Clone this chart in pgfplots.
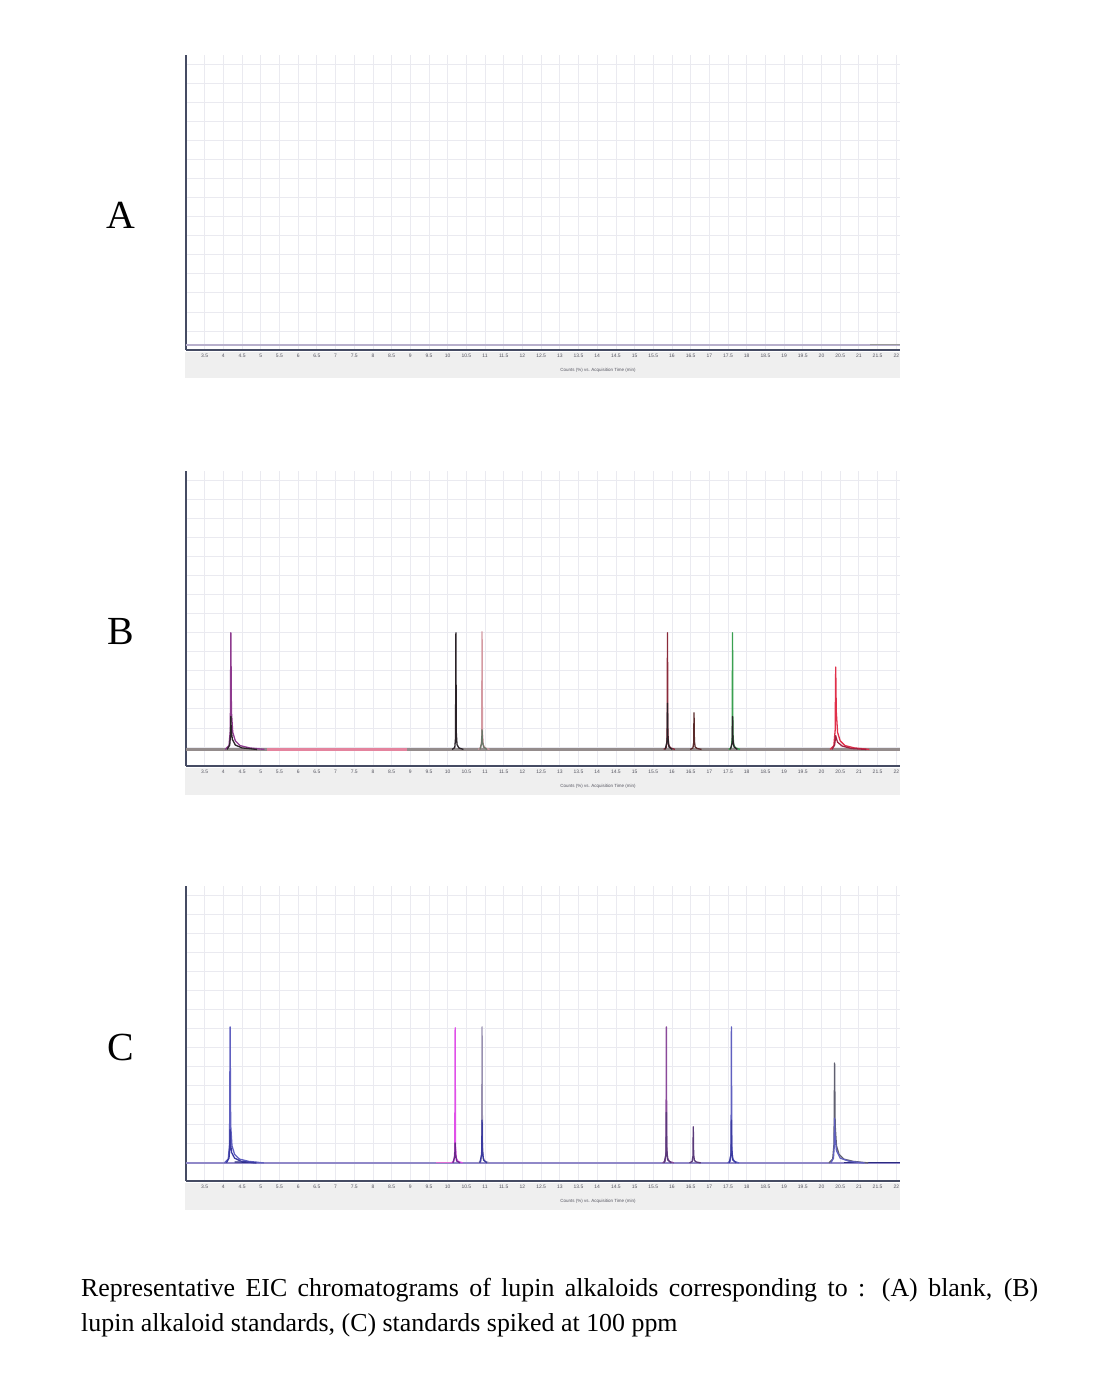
\documentclass[border=0pt]{standalone}
\usepackage{fontspec}
\setmainfont{Liberation Serif}
\setsansfont{Liberation Sans}
\usepackage{pgfplots}
\pgfplotsset{compat=1.18}
\definecolor{axisc}{HTML}{454B63}
\definecolor{gridc}{HTML}{EAEAF0}
\definecolor{stripc}{HTML}{EFEFEF}
\definecolor{labc}{HTML}{555560}
% panel B colours
\definecolor{bgray}{HTML}{948C8C}
\definecolor{bpink}{HTML}{E4849E}
\definecolor{bpurple}{HTML}{8E3A8E}
\definecolor{bblack}{HTML}{2A2228}
\definecolor{brosy}{HTML}{D49AA2}
\definecolor{bgreengray}{HTML}{6A786A}
\definecolor{bdarkred}{HTML}{8A2A3A}
\definecolor{bbrown}{HTML}{5A2A2A}
\definecolor{bgreen}{HTML}{3AA050}
\definecolor{bcrimson}{HTML}{E0304A}
\definecolor{bcrimsondk}{HTML}{A02040}
% panel C colours
\definecolor{clav}{HTML}{9088C8}
\definecolor{cpinkb}{HTML}{E070D0}
\definecolor{cnavy}{HTML}{2A2A80}
\definecolor{cblue}{HTML}{6060C0}
\definecolor{cbluedk}{HTML}{3A3AA0}
\definecolor{cmag}{HTML}{E050E8}
\definecolor{cpurpdk}{HTML}{6A2A8A}
\definecolor{cgraylav}{HTML}{9890B0}
\definecolor{cpurp}{HTML}{8A4A9A}
\definecolor{cdark}{HTML}{5A3A7A}
\definecolor{cdgray}{HTML}{606070}
% panel A colours
\definecolor{alav}{HTML}{B8B0CC}
\definecolor{agray}{HTML}{9A9A9A}

\pgfplotsset{chrom/.style={
  width=714bp, height=295bp, scale only axis,
  anchor=south west,
  xmin=3, xmax=22.1, ymin=0, ymax=15.5,
  axis x line*=bottom, axis y line*=left,
  axis line style={-, draw=axisc, line width=2bp},
  xtick={3.5,4,4.5,5,5.5,6,6.5,7,7.5,8,8.5,9,9.5,10,10.5,11,11.5,12,12.5,13,13.5,14,14.5,15,15.5,16,16.5,17,17.5,18,18.5,19,19.5,20,20.5,21,21.5,22},
  ytick={0,1,...,15}, yticklabels={},
  grid=major, major grid style={draw=gridc, line width=0.8bp},
  major tick length=0pt,
  /pgf/number format/assume math mode=true,
  xticklabel style={font=\sffamily\fontsize{5}{5}\selectfont, text=labc, yshift=-1bp},
  every axis plot/.append style={line width=1.3bp, line join=round},
}}

\begin{document}
\begin{tikzpicture}
\useasboundingbox (0,0) rectangle (1106bp,1383bp);
% grey label strips
\fill[stripc] (185bp,1005bp) rectangle (900bp,1031bp);
\fill[stripc] (185bp,588bp) rectangle (900bp,615bp);
\fill[stripc] (185bp,173bp) rectangle (900bp,200bp);

% ---------------- Panel A ----------------
\begin{axis}[chrom, at={(186bp,1033bp)}]
\addplot[alav, line width=1.6bp] coordinates {(3,0.25) (22.1,0.25)};
\addplot[agray, line width=1.2bp] coordinates {(21.3,0.3) (22.1,0.3)};
\end{axis}

% ---------------- Panel B ----------------
\begin{axis}[chrom, at={(186bp,617bp)}]
\addplot[bgray, line width=2.2bp] coordinates {(3,0.87) (22.1,0.87)};
\addplot[bpink, line width=2.4bp] coordinates {(5.16,0.87) (8.9,0.87)};
% peak 1
\addplot[bpurple] coordinates {(4.05,0.87) (4.15,1.07) (4.185,1.87) (4.20,7.0) (4.215,2.87) (4.25,1.77) (4.32,1.32) (4.45,1.07) (4.70,0.95) (5.10,0.87)};
\addplot[bblack] coordinates {(4.10,0.87) (4.17,1.1) (4.19,1.6) (4.20,2.6) (4.21,1.9) (4.24,1.4) (4.32,1.1) (4.50,0.95) (4.90,0.87)};
% peak 2
\addplot[bblack] coordinates {(10.12,0.87) (10.19,0.97) (10.21,1.47) (10.22,7.0) (10.23,1.77) (10.25,1.12) (10.30,0.95) (10.42,0.87)};
% peak 3
\addplot[brosy] coordinates {(10.82,0.87) (10.89,0.97) (10.91,1.47) (10.92,7.05) (10.93,1.77) (10.95,1.12) (11.00,0.95) (11.12,0.87)};
\addplot[bgreengray] coordinates {(10.86,0.87) (10.91,1.2) (10.92,1.9) (10.93,1.3) (10.96,1.0) (11.05,0.87)};
% peak 4
\addplot[bdarkred] coordinates {(15.78,0.87) (15.85,0.97) (15.87,1.47) (15.88,7.0) (15.89,1.77) (15.91,1.12) (15.96,0.95) (16.08,0.87)};
\addplot[bblack] coordinates {(15.82,0.87) (15.87,1.3) (15.88,3.3) (15.89,1.5) (15.92,1.0) (16.01,0.87)};
% peak 5
\addplot[bbrown] coordinates {(16.49,0.87) (16.56,0.95) (16.58,1.2) (16.59,2.8) (16.60,1.3) (16.62,1.0) (16.67,0.92) (16.79,0.87)};
% peak 6
\addplot[bgreen] coordinates {(17.52,0.87) (17.59,0.97) (17.61,1.47) (17.62,7.0) (17.63,1.77) (17.65,1.12) (17.70,0.95) (17.82,0.87)};
\addplot[bblack] coordinates {(17.56,0.87) (17.61,1.2) (17.62,2.6) (17.63,1.4) (17.66,1.0) (17.75,0.87)};
% peak 7
\addplot[bcrimson] coordinates {(20.23,0.87) (20.33,1.07) (20.365,1.87) (20.38,5.2) (20.395,2.87) (20.43,1.77) (20.50,1.32) (20.63,1.07) (20.88,0.95) (21.28,0.87)};
\addplot[bcrimsondk] coordinates {(20.28,0.87) (20.35,1.1) (20.37,1.4) (20.38,1.6) (20.39,1.5) (20.43,1.25) (20.55,1.05) (20.80,0.92) (21.20,0.87)};
\end{axis}

% ---------------- Panel C ----------------
\begin{axis}[chrom, at={(186bp,202bp)}]
\addplot[clav, line width=2.2bp] coordinates {(3,0.95) (22.1,0.95)};
\addplot[cpinkb, line width=1.2bp] coordinates {(9.7,0.98) (10.15,0.98)};
\addplot[cnavy, line width=1.2bp] coordinates {(20.6,0.97) (22.1,0.97)};
\addplot[cnavy, line width=1.2bp] coordinates {(4.3,1.0) (4.9,0.97)};
% peak 1
\addplot[cblue] coordinates {(4.03,0.95) (4.13,1.15) (4.165,1.95) (4.18,8.1) (4.195,2.95) (4.23,1.85) (4.30,1.40) (4.43,1.15) (4.68,1.03) (5.08,0.95)};
\addplot[cbluedk] coordinates {(4.08,0.95) (4.15,1.2) (4.17,1.7) (4.18,2.7) (4.19,2.0) (4.22,1.5) (4.30,1.2) (4.48,1.03) (4.88,0.95)};
% peak 2
\addplot[cmag] coordinates {(10.10,0.95) (10.17,1.05) (10.19,1.55) (10.20,8.05) (10.21,1.85) (10.23,1.20) (10.28,1.03) (10.40,0.95)};
\addplot[cpurpdk] coordinates {(10.14,0.95) (10.19,1.3) (10.20,2.0) (10.21,1.4) (10.24,1.05) (10.33,0.95)};
% peak 3
\addplot[cgraylav] coordinates {(10.82,0.95) (10.89,1.05) (10.91,1.55) (10.92,8.1) (10.93,1.85) (10.95,1.20) (11.00,1.03) (11.12,0.95)};
\addplot[cbluedk] coordinates {(10.86,0.95) (10.91,1.4) (10.92,3.2) (10.93,1.6) (10.96,1.1) (11.05,0.95)};
% peak 4
\addplot[cpurp] coordinates {(15.75,0.95) (15.82,1.05) (15.84,1.55) (15.85,8.1) (15.86,1.85) (15.88,1.20) (15.93,1.03) (16.05,0.95)};
\addplot[cdark] coordinates {(15.79,0.95) (15.84,1.4) (15.85,3.6) (15.86,1.6) (15.89,1.1) (15.98,0.95)};
% peak 5
\addplot[cdark] coordinates {(16.47,0.95) (16.54,1.03) (16.56,1.3) (16.57,2.85) (16.58,1.4) (16.60,1.08) (16.65,1.0) (16.77,0.95)};
% peak 6
\addplot[cblue] coordinates {(17.49,0.95) (17.56,1.05) (17.58,1.55) (17.59,8.1) (17.60,1.85) (17.62,1.20) (17.67,1.03) (17.79,0.95)};
\addplot[cbluedk] coordinates {(17.53,0.95) (17.58,1.4) (17.59,3.2) (17.60,1.6) (17.63,1.1) (17.72,0.95)};
% peak 7
\addplot[cdgray] coordinates {(20.20,0.95) (20.30,1.15) (20.335,1.95) (20.35,6.2) (20.365,2.95) (20.40,1.85) (20.47,1.40) (20.60,1.15) (20.85,1.03) (21.25,0.95)};
\addplot[cblue] coordinates {(20.25,0.95) (20.32,1.2) (20.34,1.8) (20.35,3.3) (20.36,2.4) (20.40,1.6) (20.50,1.2) (20.75,1.03) (21.15,0.95)};
\end{axis}

% axis titles in the strips
\foreach \yy in {1013,597,182}{
  \node[font=\sffamily\fontsize{4.5}{5}\selectfont, text=labc] at (598bp,\yy bp) {Counts (\%) vs. Acquisition Time (min)};
}
% panel letters
\node[font=\fontsize{40}{40}\selectfont] at (121bp,1168bp) {A};
\node[font=\fontsize{40}{40}\selectfont] at (121bp,751bp) {B};
\node[font=\fontsize{40}{40}\selectfont] at (121bp,335bp) {C};
% caption
\node[anchor=north west, inner sep=0pt, text width=957bp, align=justify,
      font=\fontsize{26}{35}\selectfont] at (81bp,105bp)
  {Representative EIC chromatograms of lupin alkaloids corresponding to : (A) blank, (B)\linebreak lupin alkaloid standards, (C) standards spiked at 100 ppm};
\end{tikzpicture}
\end{document}
